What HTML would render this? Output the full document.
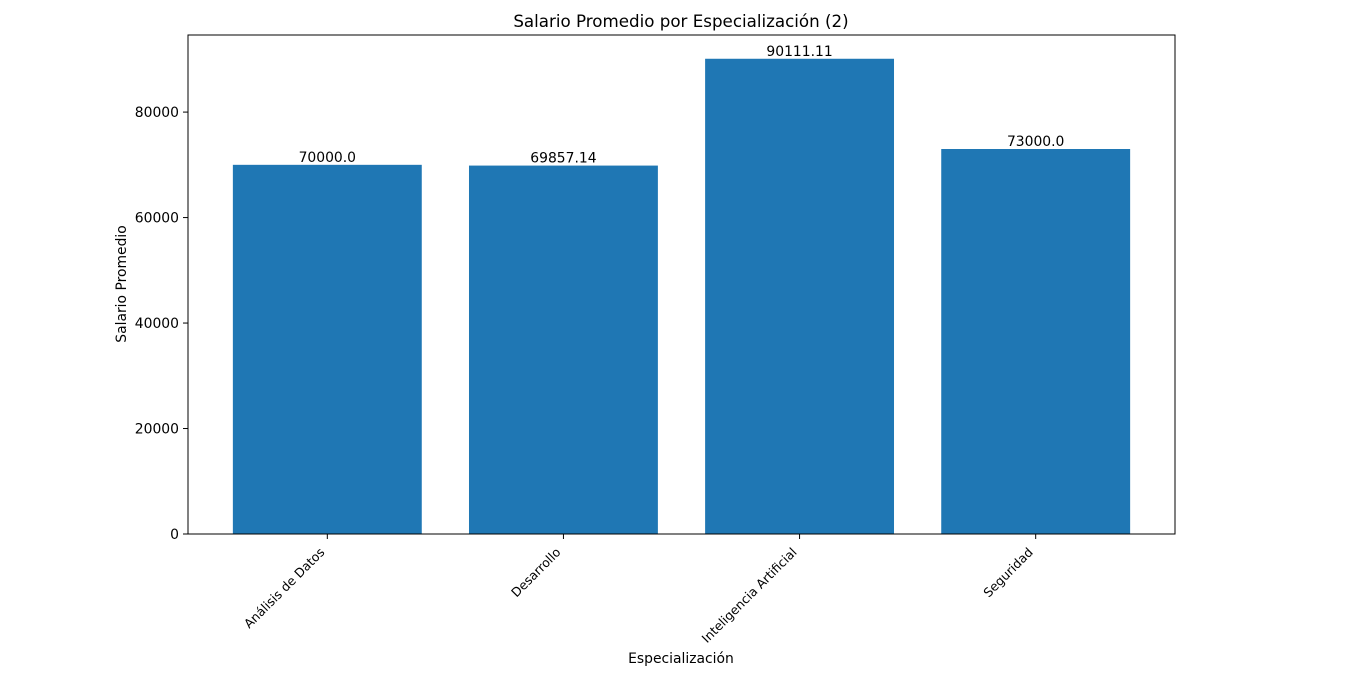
<!DOCTYPE html>
<html><head><meta charset="utf-8"><style>
body{margin:0;background:#fff;}
svg{display:block;font-family:"DejaVu Sans","Liberation Sans",sans-serif;}
</style></head><body>
<svg id="chart" width="1360" height="673">
<text x="681" y="27" text-anchor="middle" font-size="16.7">Salario Promedio por Especialización (2)</text>
<g id="plot"></g>
<rect x="188" y="35" width="987" height="499" fill="none" stroke="#000" stroke-width="1"/>
<text x="681" y="663" text-anchor="middle" font-size="13.9">Especialización</text>
<text transform="translate(126,284) rotate(-90)" text-anchor="middle" font-size="13.9">Salario Promedio</text>
</svg>
<script>
const categories=["Análisis de Datos","Desarrollo","Inteligencia Artificial","Seguridad"];
const values=[70000.0,69857.14,90111.11,73000.0];
const valueLabels=["70000.0","69857.14","90111.11","73000.0"];
const yTicks=[0,20000,40000,60000,80000];
const L=188,R=1175,T=35,B=534;
const yMax=Math.max(...values)*1.05;
const y=v=>B-(v/yMax)*(B-T);
const xMin=-0.59,xMax=categories.length-1+0.59;
const x=i=>L+(i-xMin)/(xMax-xMin)*(R-L);
const unit=(R-L)/(xMax-xMin);
const ns="http://www.w3.org/2000/svg";
const g=document.getElementById('plot');
function mk(t,a){const e=document.createElementNS(ns,t);for(const k in a)e.setAttribute(k,a[k]);g.appendChild(e);return e;}
yTicks.forEach(v=>{
 const ln=mk('line',{x1:L-5,x2:L,y1:y(v),y2:y(v),stroke:'#000'});
 
 
 const t=mk('text',{x:L-9,y:y(v)+5,'text-anchor':'end','font-size':13.9});
 t.textContent=v;
 
 
});
categories.forEach((c,i)=>{
 const cx=x(i),w=0.8*unit;
 const r=mk('rect',{x:cx-w/2,y:y(values[i]),width:w,height:B-y(values[i]),fill:'#1f77b4'});
 
 
 const vl=mk('text',{x:cx,y:y(values[i])-3,'text-anchor':'middle','font-size':13.9});
 vl.textContent=valueLabels[i];
 
 
 const tk=mk('line',{x1:cx,x2:cx,y1:B,y2:B+5,stroke:'#000'});
 
 
 const tl=mk('text',{transform:`translate(${cx-2},${B+19}) rotate(-45)`,'text-anchor':'end','font-size':12.5});
 tl.textContent=c;
 
 
});
</script>
</body></html>
